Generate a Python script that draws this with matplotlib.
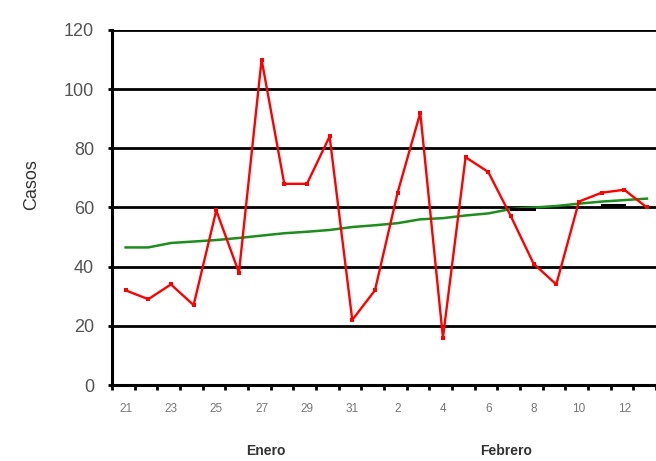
import matplotlib.pyplot as plt
import matplotlib.transforms as mtransforms
import numpy as np

plt.rcParams["font.family"] = ["Liberation Sans", "DejaVu Sans"]

# daily cases (red), trend (green), short black segments near 60
casos = [32, 29, 34, 27, 59, 38, 110, 68, 68, 84, 22, 32,
         65, 92, 16, 77, 72, 57, 41, 34, 62, 65, 66, 60]
tendencia = [46.5, 46.5, 48, 48.5, 49, 49.7, 50.5, 51.3, 51.8, 52.4, 53.4, 54,
             54.7, 56, 56.4, 57.3, 58, 59.5, 60, 60.5, 61.3, 62, 62.5, 63]
referencia = [np.nan] * 17 + [59.4, 59.4, np.nan, np.nan, 61, 61, np.nan]
dias = ["21", "23", "25", "27", "29", "31", "2", "4", "6", "8", "10", "12"]
meses = ["Enero", "Febrero"]
mes_pos = [6.2, 16.8]
y_ticks = [0, 20, 40, 60, 80, 100, 120]

x = np.arange(len(casos))
x0 = -0.6

fig = plt.figure(figsize=(6.56, 4.61), dpi=100)
ax = fig.add_axes([112 / 656, 76 / 461, 1 - 112 / 656, 355 / 461])

for v in y_ticks[1:]:
    ax.axhline(v, color="black", linewidth=2.0, zorder=1)

ax.plot(x, tendencia, color="#1e8c1e", linewidth=1.8, zorder=2)
ax.plot(x, referencia, color="black", linewidth=2.2, zorder=2)
ax.plot(x, casos, color="#ff0000", linewidth=1.7, marker="s", markersize=3.5,
        markeredgewidth=0, zorder=3)

ax.set_ylim(0, 120)
ax.set_xlim(x0, x0 + 544 / 22.9)
ax.set_yticks(y_ticks)
ax.set_yticklabels([str(v) for v in y_ticks], fontsize=13, color="#555555")

ax.set_xticks(np.arange(0, len(casos) + 1) + x0)
ax.set_xticklabels([])
ax.set_xticks(x[::2], minor=True)
ax.set_xticklabels(dias, minor=True, fontsize=8.5, color="#777777")
ax.tick_params(axis="x", which="major", direction="out", length=3.5, width=2, color="black")
ax.tick_params(axis="x", which="minor", length=0, pad=13)
ax.tick_params(axis="y", direction="out", length=3, width=2, pad=10)

for name in ["left", "bottom"]:
    ax.spines[name].set_linewidth(2.2)
    ax.spines[name].set_color("black")
ax.spines["top"].set_visible(False)
ax.spines["right"].set_visible(False)

trans = mtransforms.blended_transform_factory(ax.transData, ax.transAxes)
for m, p in zip(meses, mes_pos):
    ax.text(p, -0.185, m, transform=trans, ha="center", va="center",
            fontsize=10, fontweight="bold", color="#333333")

fig.text(32 / 656, 1 - 185 / 461, "Casos", rotation=90, ha="center", va="center",
         fontsize=13, color="#333333")

fig.savefig("out.png", dpi=100)
